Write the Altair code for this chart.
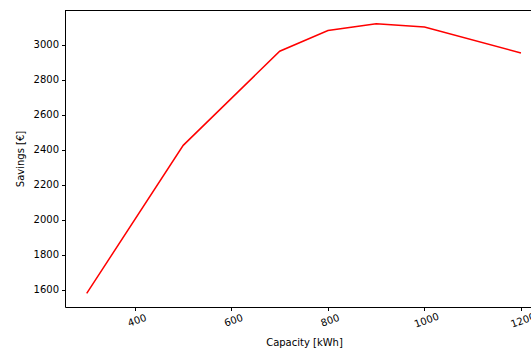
import altair as alt
import pandas as pd

capacity = [300, 500, 700, 800, 900, 1000, 1200]
savings = [1581, 2425, 2962, 3080, 3118, 3100, 2952]

df = pd.DataFrame({"Capacity": capacity, "Savings": savings})

font = "DejaVu Sans"
W, H = 466, 297

line = alt.Chart(df).mark_line(color="#ff0000", strokeWidth=1.5, clip=True).encode(
    x=alt.X("Capacity:Q", scale=alt.Scale(domain=[255, 255 + W / 0.4825], nice=False, zero=False),
            axis=alt.Axis(title="Capacity [kWh]", values=[400, 600, 800, 1000, 1200],
                          labelAngle=-20, labelAlign="center", labelBaseline="top",
                          labelPadding=5, titlePadding=8, grid=False, format="d",
                          titleX=239, titleAnchor="middle", titleAlign="center")),
    y=alt.Y("Savings:Q", scale=alt.Scale(domain=[1503, 3197], nice=False, zero=False),
            axis=alt.Axis(title="Savings [€]", values=[1600, 1800, 2000, 2200, 2400, 2600, 2800, 3000],
                          labelPadding=3, titlePadding=8, grid=False, format="d")),
)

top = alt.Chart(df).mark_rule(color="#000000", strokeWidth=1).encode(
    x=alt.value(0), x2=alt.value(W), y=alt.value(0.5)
)

chart = alt.layer(line, top).properties(
    width=W, height=H,
    padding={"left": 65, "top": 10, "right": 0, "bottom": 42},
    autosize=alt.AutoSizeParams(type="none"),
).configure_view(
    stroke=None
).configure_axis(
    domainColor="#000000", tickColor="#000000", tickSize=3.5, domainWidth=1,
    labelFont=font, titleFont=font, labelFontSize=10, titleFontSize=10,
    labelColor="#000000", titleColor="#000000", titleFontWeight="normal",
)

chart.save("out.html", embed_options={"renderer": "svg", "actions": False})
